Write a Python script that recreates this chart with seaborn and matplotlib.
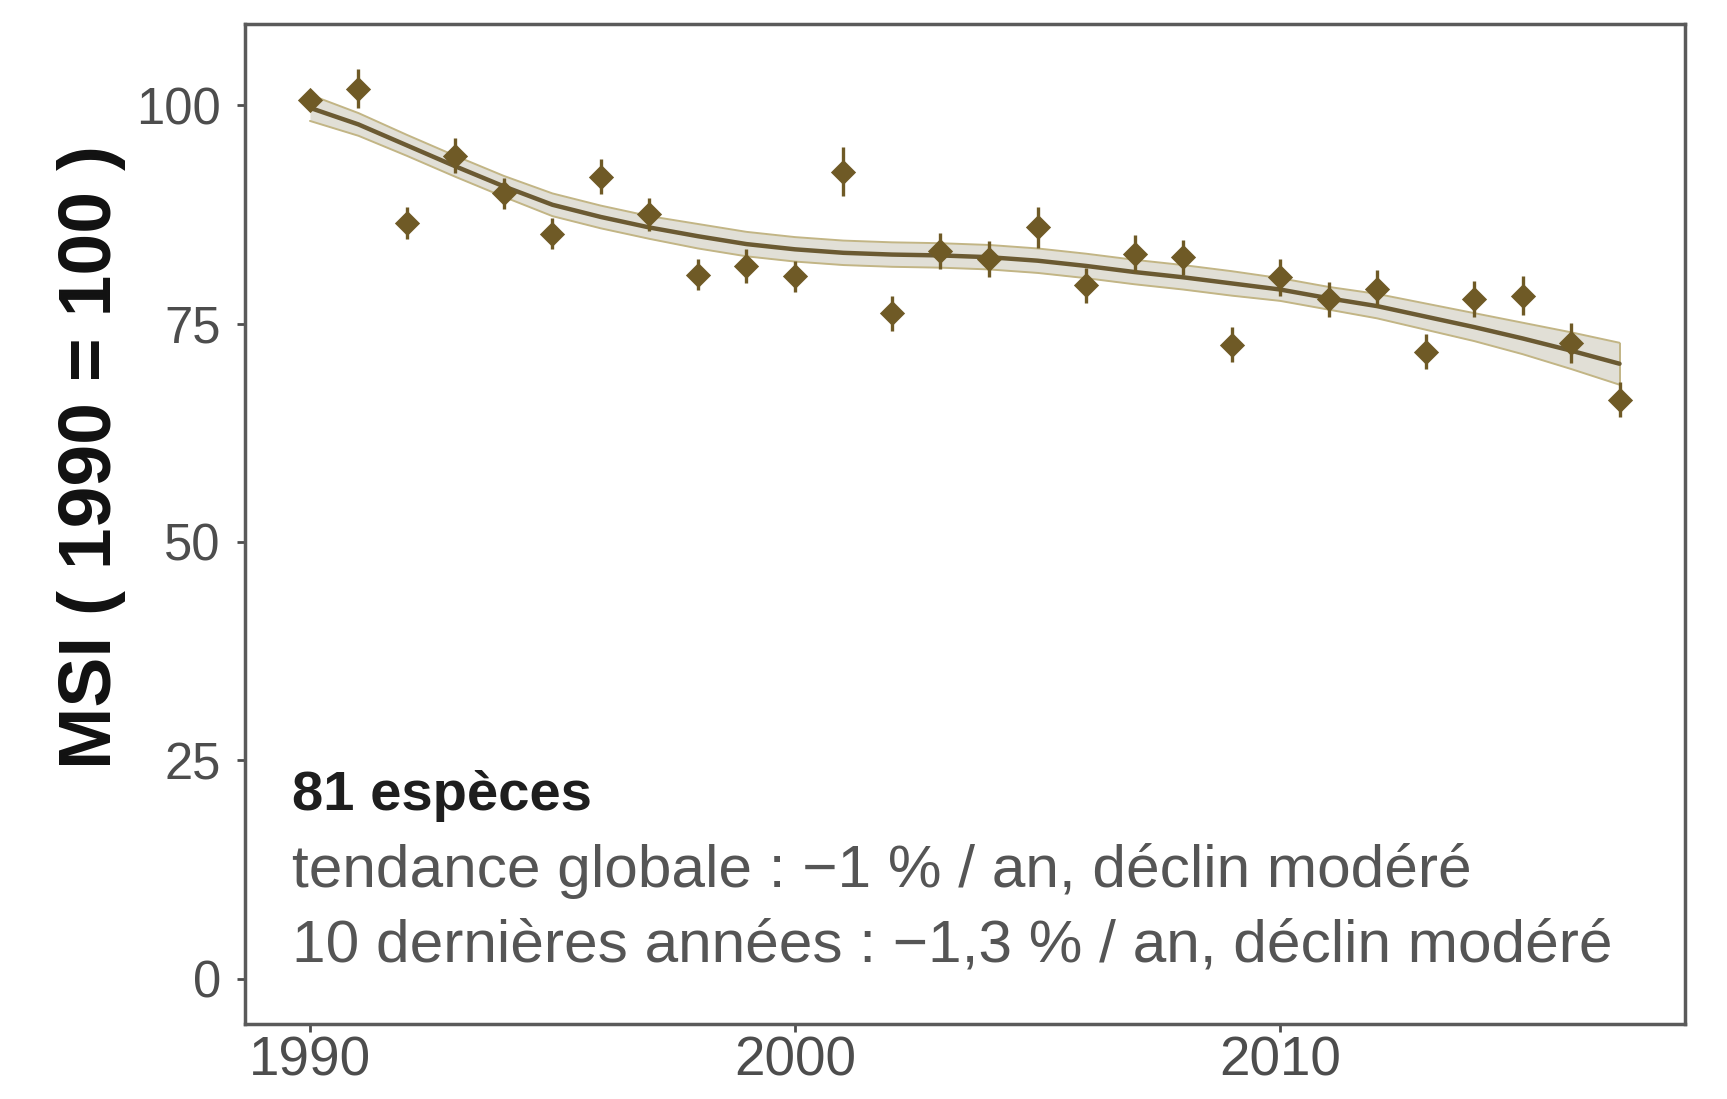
import numpy as np
import pandas as pd
import matplotlib
matplotlib.use("Agg")
import matplotlib.pyplot as plt
import seaborn as sns

# ---- data ----
years = list(range(1990, 2018))
msi = [100.6, 101.9, 86.5, 94.2, 89.9, 85.3, 91.8, 87.5, 80.6, 81.6,
       80.4, 92.4, 76.2, 83.3, 82.4, 86.0, 79.4, 83.0, 82.6, 72.6,
       80.3, 77.8, 79.0, 71.8, 77.8, 78.2, 72.8, 66.3]
msi_err = [0.0, 2.2, 1.8, 2.0, 1.8, 1.8, 2.0, 1.9, 1.8, 1.9,
           1.8, 2.8, 2.0, 2.1, 2.1, 2.3, 2.0, 2.1, 2.0, 2.0,
           2.1, 2.0, 2.1, 2.0, 2.1, 2.2, 2.3, 2.0]
trend = [99.7, 97.8, 95.4, 93.0, 90.7, 88.6, 87.2, 86.0, 85.0, 84.1,
         83.5, 83.1, 82.9, 82.8, 82.6, 82.2, 81.6, 80.9, 80.3, 79.6,
         78.9, 77.9, 77.0, 75.8, 74.6, 73.3, 71.9, 70.4]
trend_hw = [1.5, 1.3, 1.2, 1.2, 1.2, 1.3, 1.3, 1.3, 1.4, 1.4,
            1.4, 1.4, 1.4, 1.4, 1.4, 1.4, 1.4, 1.4, 1.4, 1.4,
            1.3, 1.3, 1.4, 1.5, 1.6, 1.8, 2.1, 2.4]
y_ticks = [0, 25, 50, 75, 100]
x_ticks = [1990, 2000, 2010]
ylabel = "MSI ( 1990 = 100 )"
txt_title = "81 espèces"
txt_line1 = "tendance globale : \u22121 % / an, déclin modéré"
txt_line2 = "10 dernières années : \u22121,3 % / an, déclin modéré"

df = pd.DataFrame({"year": years, "msi": msi, "err": msi_err,
                   "trend": trend, "hw": trend_hw})
df["lo"] = df["trend"] - df["hw"]
df["hi"] = df["trend"] + df["hw"]

sns.set_theme(style="white")
plt.rcParams["font.family"] = ["Liberation Sans", "DejaVu Sans"]

fig = plt.figure(figsize=(17.27, 10.99), dpi=100)
ax = fig.add_axes([244.5 / 1727, 75 / 1099, 1440.5 / 1727, 1000 / 1099])

pt_col = "#6f5a26"
line_col = "#6b5a32"

# confidence band
ax.fill_between(df["year"], df["lo"], df["hi"], color="#dedcd2", alpha=0.9,
                linewidth=0, zorder=1)
ax.plot(df["year"], df["lo"], color="#c2b585", lw=1.4, zorder=1.5)
ax.plot(df["year"], df["hi"], color="#c2b585", lw=1.4, zorder=1.5)
ax.vlines([df["year"].iloc[-1]], df["lo"].iloc[-1], df["hi"].iloc[-1],
          color="#c2b585", lw=1.4, zorder=1.5)
sns.lineplot(data=df, x="year", y="trend", ax=ax, color=line_col,
             lw=3.2, zorder=2)

# points with error bars
ax.errorbar(df["year"], df["msi"], yerr=df["err"], fmt="none",
            ecolor=pt_col, elinewidth=2.4, capsize=0, zorder=3)
sns.scatterplot(data=df, x="year", y="msi", ax=ax, marker="D", s=165,
                color=pt_col, edgecolor=pt_col, linewidth=0, zorder=4)

ax.set_xlim(1988.65, 2018.35)
ax.set_ylim(-5.2, 109.3)
ax.set_xticks(x_ticks)
ax.set_yticks(y_ticks)
ax.set_xticklabels([str(v) for v in x_ticks], fontsize=39.5, color="#4d4d4d")
ax.set_yticklabels([str(v) for v in y_ticks], fontsize=36.5, color="#4d4d4d")
ax.tick_params(axis="both", which="major", length=6, width=2,
               color="#4d4d4d", direction="out", left=True, bottom=True)
ax.tick_params(axis="y", pad=11)
ax.tick_params(axis="x", pad=2)

for sp in ax.spines.values():
    sp.set_visible(True)
    sp.set_color("#5a5a5a")
    sp.set_linewidth(2.5)

ax.set_xlabel("")
ax.set_ylabel(ylabel, fontsize=54, fontweight="bold", color="#111111")
ax.yaxis.set_label_coords(-0.082, 0.567)

ax.text(0.033, 0.2145, txt_title, transform=ax.transAxes, fontsize=40.5,
        fontweight="bold", color="#1e1e1e", va="baseline", ha="left")
ax.text(0.033, 0.1374, txt_line1, transform=ax.transAxes, fontsize=43.5,
        color="#555555", va="baseline", ha="left")
ax.text(0.033, 0.0625, txt_line2, transform=ax.transAxes, fontsize=43.5,
        color="#555555", va="baseline", ha="left")

fig.savefig("out.png", dpi=100, facecolor="white")
